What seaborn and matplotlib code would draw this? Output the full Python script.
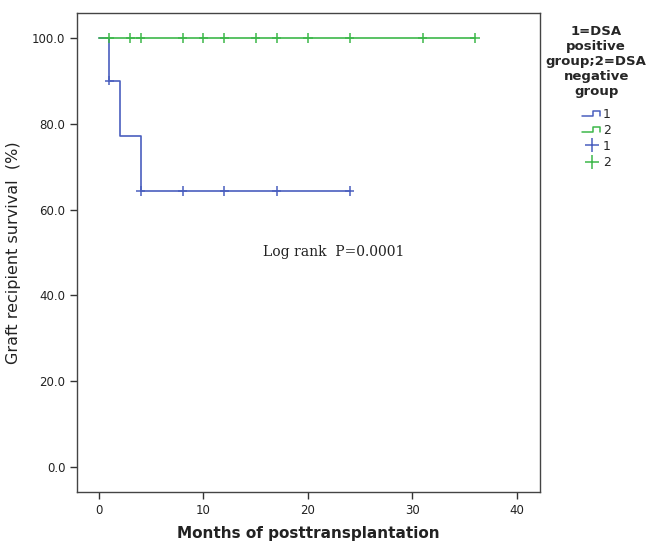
import pandas as pd
import matplotlib.pyplot as plt
import seaborn as sns
from matplotlib.lines import Line2D
from matplotlib.legend_handler import HandlerBase

# Kaplan-Meier steps
grupos = ["1", "2"]
tiempo_pos = [0, 1, 2, 4, 24]
surv_pos = [100.0, 90.0, 77.1, 64.3, 64.3]
tiempo_neg = [0, 36]
surv_neg = [100.0, 100.0]
cens_pos = [1, 4, 8, 12, 17, 24]
cens_neg = [1, 3, 4, 8, 10, 12, 15, 17, 20, 24, 31, 36]
xticks = [0, 10, 20, 30, 40]
yticks = [0, 20, 40, 60, 80, 100]

azul = "#4a5fbf"
verde = "#3db84a"
colores = {"1": azul, "2": verde}


def surv_en(t, tiempos, survs):
    s = survs[0]
    for ti, si in zip(tiempos, survs):
        if ti <= t:
            s = si
    return s


lineas = pd.DataFrame({
    "t": tiempo_pos + tiempo_neg,
    "s": surv_pos + surv_neg,
    "g": ["1"] * len(tiempo_pos) + ["2"] * len(tiempo_neg),
})
censuras = pd.DataFrame({
    "t": cens_pos + cens_neg,
    "s": [surv_en(t, tiempo_pos, surv_pos) for t in cens_pos]
         + [surv_en(t, tiempo_neg, surv_neg) for t in cens_neg],
    "g": ["1"] * len(cens_pos) + ["2"] * len(cens_neg),
})

sns.set_style("white")
fig = plt.figure(figsize=(6.48, 5.44), dpi=100)
ax = fig.add_axes([0.119, 0.096, 0.714, 0.880])

sns.lineplot(data=lineas, x="t", y="s", hue="g", palette=colores,
             drawstyle="steps-post", linewidth=1.2, legend=False, ax=ax)
sns.scatterplot(data=censuras, x="t", y="s", hue="g", palette=colores,
                marker="+", s=45, linewidth=1.1, legend=False, ax=ax, zorder=3)

ax.set_xlim(-2.1, 42.2)
ax.set_ylim(-5.8, 105.8)
ax.set_xticks(xticks)
ax.set_yticks(yticks)
ax.set_yticklabels([f"{v:.1f}" for v in yticks])
ax.tick_params(axis="both", direction="out", length=5, width=1,
               labelsize=8.5, colors="#333333", labelcolor="#222222",
               bottom=True, left=True)
for sp in ax.spines.values():
    sp.set_color("#444444")
    sp.set_linewidth(1)

ax.set_xlabel("Months of posttransplantation", fontsize=11,
              fontweight="bold", color="#222222", labelpad=7)
ax.set_ylabel("Graft recipient survival  (%)", fontsize=11.5,
              fontweight="medium", color="#222222", labelpad=8)

ax.text(22.5, 50, "Log rank  P=0.0001", family="DejaVu Serif",
        fontsize=10, ha="center", va="center", color="#222222")


class HandlerEscalon(HandlerBase):
    def create_artists(self, legend, orig, xd, yd, w, h, fs, trans):
        x = [xd, xd + w * 0.55, xd + w * 0.55, xd + w * 0.9, xd + w * 0.9]
        y = [yd + h * 0.2, yd + h * 0.2, yd + h * 0.8, yd + h * 0.8, yd + h * 0.2]
        ln = Line2D(x, y, color=orig.get_color(), linewidth=1.1, transform=trans)
        return [ln]


manijas = [Line2D([], [], color=colores[g]) for g in grupos]
manijas += [Line2D([], [], color=colores[g], marker="+", markersize=10,
                   markeredgewidth=1.1, linewidth=0) for g in grupos]
etiquetas = grupos + grupos
mapa = {manijas[0]: HandlerEscalon(), manijas[1]: HandlerEscalon()}
leg = fig.legend(manijas, etiquetas, handler_map=mapa,
                 title="1=DSA\npositive\ngroup;2=DSA\nnegative\ngroup",
                 loc="upper center", bbox_to_anchor=(0.92, 0.975),
                 frameon=False, fontsize=9, handlelength=1.6,
                 handletextpad=0.1, labelspacing=0.25,
                 title_fontproperties={"size": 9.5, "weight": "bold"})
leg.get_title().set_multialignment("center")
leg._legend_box.sep = 7

fig.savefig("out.png", dpi=100)
